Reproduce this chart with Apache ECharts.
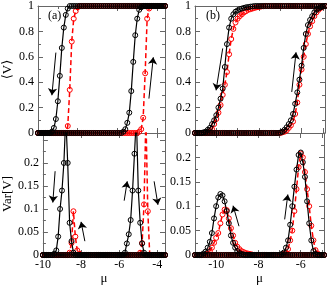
<!DOCTYPE html>
<html><head><meta charset="utf-8">
<script src="https://cdn.jsdelivr.net/npm/echarts@6/dist/echarts.min.js"></script>
<style>html,body{margin:0;padding:0;background:#fff}#c{width:327px;height:286px}</style>
</head><body><div id="c"></div>
<script>
// ---------- panel (a): mu grid ----------
const muA = [-10.0,-9.9,-9.8,-9.7,-9.6,-9.5,-9.4,-9.3,-9.2,-9.1,
  -9.0,-8.9,-8.8,-8.7,-8.6,-8.5,-8.4,-8.3,-8.2,-8.1,
  -8.0,-7.9,-7.8,-7.7,-7.6,-7.5,-7.4,-7.3,-7.2,-7.1,
  -7.0,-6.9,-6.8,-6.7,-6.6,-6.5,-6.4,-6.3,-6.2,-6.1,
  -6.0,-5.9,-5.8,-5.7,-5.6,-5.5,-5.4,-5.3,-5.2,-5.1,
  -5.0,-4.9,-4.8,-4.7,-4.6,-4.5,-4.4,-4.3,-4.2,-4.1,
  -4.0,-3.9,-3.8,-3.7,-3.6];
// <V>, panel (a)
const aVBlackUp = [0,0,0,0,0,0,0,0,0,0, 0,0,0,0,0,0,0,0,0,0, 0,0,0,0,0,0,0,0,0,0, 0,0,0,0,0,0,0,0,0,0,
  0,0,0,0.01,0.03,0.08,0.16,0.33,0.56,0.77, 0.90,0.97,0.99,1,1,1,1,1,1,1, 1,1,1,1,1];
const aVBlackDown = [0,0,0,0,0,0,0,0.01,0.04,0.11, 0.25,0.45,0.67,0.83,0.93,0.98,1,1,1,1,
  1,1,1,1,1,1,1,1,1,1, 1,1,1,1,1,1,1,1,1,1, 1,1,1,1,1,1,1,1,1,1, 1,1,1,1,1,1,1,1,1,1, 1,1,1,1,1];
const aVRedUp = [0,0,0,0,0,0,0,0,0,0, 0,0,0,0,0,0,0,0,0,0, 0,0,0,0,0,0,0,0,0,0, 0,0,0,0,0,0,0,0,0,0,
  0,0,0,0,0,0,0,0,0,0, 0,0.01,0.03,0.12,0.47,0.90,0.98,1,1,1, 1,1,1,1,1];
const aVRedDown = [0,0,0,0,0,0,0,0,0,0, 0,0,0,0,0,0.055,0.34,0.72,0.90,0.96,
  0.99,1,1,1,1,1,1,1,1,1, 1,1,1,1,1,1,1,1,1,1, 1,1,1,1,1,1,1,1,1,1, 1,1,1,1,1,1,1,1,1,1, 1,1,1,1,1];
// Var[V], panel (a)
const aWBlackUp = [0,0,0,0,0,0,0,0,0,0, 0,0,0,0,0,0,0,0,0,0, 0,0,0,0,0,0,0,0,0,0, 0,0,0,0,0,0,0,0,0,0,
  0,0,0,0.005,0.025,0.045,0.076,0.14,0.22,0.3, 0.14,0.07,0.025,0.005,0,0,0,0,0,0, 0,0,0,0,0];
const aWBlackDown = [0,0,0,0,0,0,0.003,0.01,0.04,0.1, 0.14,0.2,0.3,0.2,0.07,0.03,0.005,0,0,0,
  0,0,0,0,0,0,0,0,0,0, 0,0,0,0,0,0,0,0,0,0, 0,0,0,0,0,0,0,0,0,0, 0,0,0,0,0,0,0,0,0,0, 0,0,0,0,0];
const aWRedUp = [0,0,0,0,0,0,0,0,0,0, 0,0,0,0,0,0,0,0,0,0, 0,0,0,0,0,0,0,0,0,0, 0,0,0,0,0,0,0,0,0,0,
  0,0,0,0,0,0,0,0,0,0, 0,0.005,0.026,0.11,0.3,0.095,0,0,0,0, 0,0,0,0,0];
const aWRedDown = [0,0,0,0,0,0,0,0,0,0, 0,0,0,0,0.005,0.026,0.095,0.04,0.01,0.003,
  0,0,0,0,0,0,0,0,0,0, 0,0,0,0,0,0,0,0,0,0, 0,0,0,0,0,0,0,0,0,0, 0,0,0,0,0,0,0,0,0,0, 0,0,0,0,0];

// ---------- panel (b): mu grid ----------
const muB = [-11.0,-10.9,-10.8,-10.7,-10.6,-10.5,-10.4,-10.3,-10.2,-10.1,
  -10.0,-9.9,-9.8,-9.7,-9.6,-9.5,-9.4,-9.3,-9.2,-9.1,
  -9.0,-8.9,-8.8,-8.7,-8.6,-8.5,-8.4,-8.3,-8.2,-8.1,
  -8.0,-7.9,-7.8,-7.7,-7.6,-7.5,-7.4,-7.3,-7.2,-7.1,
  -7.0,-6.9,-6.8,-6.7,-6.6,-6.5,-6.4,-6.3,-6.2,-6.1,
  -6.0,-5.9,-5.8,-5.7,-5.6,-5.5,-5.4,-5.3,-5.2,-5.1,
  -5.0,-4.9];
const bVBlackDown = [0,0,0,0,0.005,0.01,0.025,0.04,0.07,0.1,
  0.14,0.2,0.27,0.35,0.52,0.7,0.83,0.9,0.935,0.955,
  0.965,0.975,0.98,0.985,0.99,0.992,0.995,0.997,1,1,
  1,1,1,1,1,1,1,1,1,1, 1,1,1,1,1,1,1,1,1,1, 1,1,1,1,1,1,1,1,1,1, 1,1];
const bVBlackUp = [0,0,0,0,0,0,0,0,0,0, 0,0,0,0,0,0,0,0,0,0, 0,0,0,0,0,0,0,0,0,0, 0,0,0,0,0,0,0,0,0,0,
  0.003,0.01,0.025,0.045,0.07,0.1,0.15,0.23,0.32,0.42,
  0.53,0.67,0.78,0.85,0.89,0.92,0.95,0.97,0.98,0.99, 0.995,1];
const bVRedDown = [0,0,0,0,0,0,0.005,0.015,0.03,0.07,
  0.11,0.16,0.22,0.3,0.38,0.48,0.62,0.74,0.82,0.87,
  0.9,0.92,0.935,0.95,0.96,0.97,0.975,0.98,0.985,0.99,
  0.993,0.996,0.998,1,1,1,1,1,1,1, 1,1,1,1,1,1,1,1,1,1, 1,1,1,1,1,1,1,1,1,1, 1,1];
const bVRedUp = [0,0,0,0,0,0,0,0,0,0, 0,0,0,0,0,0,0,0,0,0, 0,0,0,0,0,0,0,0,0,0, 0,0,0,0,0,0,0,0,0,0,
  0,0.005,0.01,0.02,0.04,0.06,0.09,0.15,0.24,0.38,
  0.5,0.6,0.7,0.78,0.84,0.88,0.92,0.95,0.97,0.985, 0.995,1];
const bWBlackDown = [0,0,0,0,0.003,0.007,0.015,0.027,0.045,0.075,
  0.1,0.118,0.125,0.122,0.11,0.09,0.065,0.04,0.025,0.015,
  0.008,0.004,0.002,0.001,0,0,0,0,0,0,
  0,0,0,0,0,0,0,0,0,0, 0,0,0,0,0,0,0,0,0,0, 0,0,0,0,0,0,0,0,0,0, 0,0];
const bWRedDown = [0,0,0,0,0,0,0.003,0.008,0.015,0.025,
  0.035,0.045,0.065,0.083,0.093,0.092,0.075,0.055,0.04,0.025,
  0.017,0.012,0.008,0.006,0.004,0.003,0.002,0.001,0,0,
  0,0,0,0,0,0,0,0,0,0, 0,0,0,0,0,0,0,0,0,0, 0,0,0,0,0,0,0,0,0,0, 0,0];
const bWBlackUp = [0,0,0,0,0,0,0,0,0,0, 0,0,0,0,0,0,0,0,0,0, 0,0,0,0,0,0,0,0,0,0, 0,0,0,0,0,0,0,0,0,0,
  0,0.002,0.005,0.015,0.03,0.062,0.1,0.14,0.175,0.205,
  0.21,0.19,0.16,0.11,0.065,0.03,0.008,0.002,0,0, 0,0];
const bWRedUp = [0,0,0,0,0,0,0,0,0,0, 0,0,0,0,0,0,0,0,0,0, 0,0,0,0,0,0,0,0,0,0, 0,0,0,0,0,0,0,0,0,0,
  0,0,0.002,0.005,0.012,0.03,0.05,0.09,0.135,0.18,
  0.208,0.2,0.17,0.135,0.1,0.06,0.03,0.01,0.003,0, 0,0];

// arrows (data coordinates: [from, to])
const arrowsATop = [[[-9.10,0.633],[-9.30,0.297]], [[-4.41,0.271],[-4.19,0.596]]];
const arrowsABot = [[[-9.36,0.182],[-9.48,0.114]], [[-7.80,0.030],[-8.00,0.072]],
  [[-5.74,0.118],[-5.58,0.160]], [[-4.17,0.160],[-3.97,0.109]]];
const arrowsBTop = [[[-9.70,0.666],[-10.01,0.336]], [[-6.46,0.323],[-6.26,0.635]]];
const arrowsBBot = [[[-8.92,0.059],[-9.20,0.101]], [[-6.76,0.073],[-6.61,0.124]]];

const FONT = 'Liberation Serif, DejaVu Serif, serif';
const FRAME = '#666';
const grids = [
  {left:37, top:5, width:128, height:128},
  {left:37, top:133, width:128, height:126},
  {left:195, top:5, width:130, height:128},
  {left:195, top:133, width:130, height:126}
];
const xr = [[-10,-3.6],[-10,-3.6],[-11,-4.9],[-11,-4.9]];
const yr = [[0,1,0.2],[0,0.265,0.05],[0,1,0.2],[0,0.25,0.05]];

function fmtY(v){ if (v > 0.21 && v < 0.3) return ''; return String(+v.toFixed(3)); }

const xAxis = [], yAxis = [];
for (let g = 0; g < 4; g++) {
  const bottom = (g === 1 || g === 3);
  const isB = g >= 2;
  const base = {
    type:'value', gridIndex:g, min:xr[g][0], max:xr[g][1],
    axisLine:{show:true, onZero:false, lineStyle:{color:FRAME, width:1}},
    splitLine:{show:false},
    axisTick:{inside:true, length:5, lineStyle:{color:FRAME}},
    minorTick:{show:true, splitNumber:2, length:3, lineStyle:{color:FRAME}},
    axisLabel:{show:bottom, color:'#000', fontFamily:FONT, fontSize:12, margin:4}
  };
  if (isB) {
    base.interval = 1;
    base.minorTick = {show:false};
    base.axisLabel.formatter = v => (Math.round(v) % 2 === 0 ? String(v) : '');
  } else {
    base.interval = 2;
  }
  if (bottom) {
    base.name = 'μ'; base.nameLocation = 'middle'; base.nameGap = 17;
    base.nameTextStyle = {fontFamily:FONT, fontSize:13, color:'#000'};
  }
  xAxis.push(base);
}
for (let g = 0; g < 4; g++) {
  const isB = g >= 2;
  xAxis.push({
    type:'value', gridIndex:g, position:'top', min:xr[g][0], max:xr[g][1], interval: isB ? 1 : 2,
    axisLine:{show:true, onZero:false, lineStyle:{color:FRAME, width:1}},
    splitLine:{show:false},
    axisTick:{inside:true, length:5, lineStyle:{color:FRAME}},
    minorTick:{show:!isB, splitNumber:2, length:3, lineStyle:{color:FRAME}},
    axisLabel:{show:false}
  });
}
for (let g = 0; g < 4; g++) {
  const y = {
    type:'value', gridIndex:g, min:yr[g][0], max:yr[g][1], interval:yr[g][2],
    axisLine:{show:true, onZero:false, lineStyle:{color:FRAME, width:1}},
    splitLine:{show:false},
    axisTick:{inside:true, length:5, lineStyle:{color:FRAME}},
    minorTick:{show:true, splitNumber:2, length:3, lineStyle:{color:FRAME}},
    axisLabel:{color:'#000', fontFamily:FONT, fontSize:12, margin:4, formatter:fmtY}
  };
  if (g === 0) { y.name = '⟨V⟩'; }
  if (g === 1) { y.name = 'Var[V]'; }
  if (g < 2) {
    y.nameLocation = 'middle'; y.nameGap = 24;
    y.nameTextStyle = {fontFamily:FONT, fontSize:13, color:'#000'};
  }
  yAxis.push(y);
}
for (let g = 0; g < 4; g++) {
  yAxis.push({
    type:'value', gridIndex:g, position:'right', min:yr[g][0], max:yr[g][1], interval:yr[g][2],
    axisLine:{show:true, onZero:false, lineStyle:{color:FRAME, width:1}},
    splitLine:{show:false},
    axisTick:{inside:true, length:5, lineStyle:{color:FRAME}},
    minorTick:{show:true, splitNumber:2, length:3, lineStyle:{color:FRAME}},
    axisLabel:{show:false}
  });
}

function ser(g, mu, vals, color, dashed) {
  return {
    type:'line', xAxisIndex:g, yAxisIndex:g,
    data: mu.map((m, i) => [m, vals[i]]),
    symbol:'circle', symbolSize:5, showAllSymbol:true, clip:true,
    itemStyle:{color:'rgba(0,0,0,0)', borderColor:color, borderWidth:1},
    lineStyle:{color:color, width: dashed ? 1.5 : 1.2, type: dashed ? [5,3] : 'solid'},
    emphasis:{disabled:true}, silent:true, z: dashed ? 2 : 3
  };
}
function arrowSer(g, arrows) {
  return {
    type:'line', xAxisIndex:g, yAxisIndex:g, data:[], silent:true, z:5,
    markLine:{
      silent:true, symbol:['none','arrow'], symbolSize:7, precision:4,
      lineStyle:{color:'#000', width:1, type:'solid'},
      itemStyle:{color:'#000'},
      label:{show:false}, emphasis:{disabled:true},
      data: arrows.map(a => [{coord:a[0]}, {coord:a[1]}])
    }
  };
}

const series = [
  ser(0, muA, aVRedUp, '#ff0000', true), ser(0, muA, aVRedDown, '#ff0000', true),
  ser(0, muA, aVBlackUp, '#000', false), ser(0, muA, aVBlackDown, '#000', false),
  ser(1, muA, aWRedUp, '#ff0000', true), ser(1, muA, aWRedDown, '#ff0000', true),
  ser(1, muA, aWBlackUp, '#000', false), ser(1, muA, aWBlackDown, '#000', false),
  ser(2, muB, bVRedUp, '#ff0000', true), ser(2, muB, bVRedDown, '#ff0000', true),
  ser(2, muB, bVBlackUp, '#000', false), ser(2, muB, bVBlackDown, '#000', false),
  ser(3, muB, bWRedUp, '#ff0000', true), ser(3, muB, bWRedDown, '#ff0000', true),
  ser(3, muB, bWBlackUp, '#000', false), ser(3, muB, bWBlackDown, '#000', false),
  arrowSer(0, arrowsATop), arrowSer(1, arrowsABot), arrowSer(2, arrowsBTop), arrowSer(3, arrowsBBot)
];

const chart = echarts.init(document.getElementById('c'), null, {renderer:'canvas'});
chart.setOption({
  animation:false,
  backgroundColor:'#fff',
  title:[
    {text:'(a)', left:43, top:5, textStyle:{fontFamily:FONT, fontSize:12, fontWeight:'normal', color:'#000'}},
    {text:'(b)', left:201, top:5, textStyle:{fontFamily:FONT, fontSize:12, fontWeight:'normal', color:'#000'}}
  ],
  grid:grids, xAxis:xAxis, yAxis:yAxis, series:series
});
</script></body></html>
